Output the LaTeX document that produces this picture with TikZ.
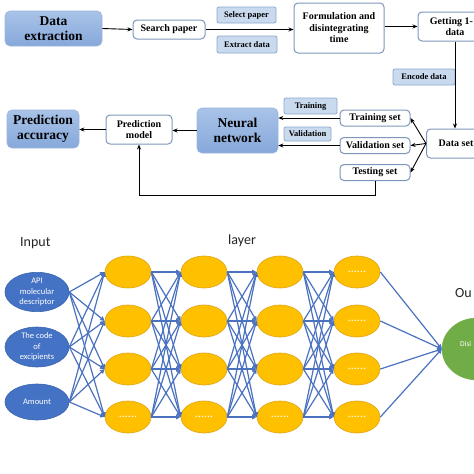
\documentclass[tikz,border=0pt]{standalone}
\usepackage{fontspec}
\setmainfont{Liberation Serif}
\newfontfamily\carl{Carlito}
\usetikzlibrary{arrows.meta,shapes.geometric,calc}
\definecolor{lblfill}{HTML}{C9D9EE}
\definecolor{lbldraw}{HTML}{8DA9CC}
\definecolor{wdraw}{HTML}{7D97BA}
\definecolor{bigtop}{HTML}{A9C3E8}
\definecolor{bigbot}{HTML}{86A8DA}
\definecolor{bigdraw}{HTML}{9DB6DC}
\definecolor{nnblue}{HTML}{4A72C0}
\definecolor{inpfill}{HTML}{4472C4}
\definecolor{inpdraw}{HTML}{3A63AE}
\definecolor{hidfill}{HTML}{FFC000}
\definecolor{hiddraw}{HTML}{E0A818}
\definecolor{outfill}{HTML}{70AD47}
\begin{document}
\begin{tikzpicture}[x=1pt,y=-1pt,
  bigbox/.style={rounded corners=5pt, top color=bigtop, bottom color=bigbot, draw=bigdraw, line width=0.6pt, font=\fontsize{13.5}{15}\selectfont\bfseries, align=center, inner sep=0pt},
  wbox/.style={rounded corners=4pt, fill=white, draw=wdraw, line width=1pt, font=\fontsize{10}{11.5}\selectfont\bfseries, align=center, inner sep=0pt},
  lbl/.style={rounded corners=2pt, fill=lblfill, draw=lbldraw, line width=0.8pt, font=\fontsize{8.5}{10}\selectfont\bfseries, inner sep=0pt},
  flow/.style={-{Stealth[length=5pt,width=4pt]}, line width=0.9pt, black},
  inp/.style={ellipse, fill=inpfill, draw=inpdraw, line width=0.6pt, minimum width=64pt, minimum height=36pt, inner sep=0pt, text=white, align=center, font=\carl\fontsize{8.5}{10.5}\selectfont},
  hid/.style={ellipse, fill=hidfill, draw=hiddraw, line width=0.7pt, minimum width=46pt, minimum height=32pt, inner sep=0pt, text=white, font=\carl\fontsize{12}{12}\selectfont},
  nn/.style={-{Triangle[length=4.5pt,width=4.5pt]}, line width=1.2pt, nnblue},
  ttl/.style={font=\carl\fontsize{14}{16}\selectfont, text=black!85, anchor=west, inner sep=0pt}]
\useasboundingbox (0,0) rectangle (474,474);
\clip (0,0) rectangle (474,474);
\fill[white] (0,0) rectangle (474,474);
% ---- top flow chart ----
\node[bigbox, minimum width=97pt, minimum height=35pt] (de) at (53.5,28.5) {Data\\extraction};
\node[wbox, minimum width=72pt, minimum height=19pt] (sp) at (169,29.5) {Search paper};
\node[lbl, minimum width=59pt, minimum height=16pt] (sel) at (246.5,15) {Select paper};
\node[lbl, minimum width=60pt, minimum height=17pt] (ext) at (247,44.5) {Extract data};
\node[wbox, minimum width=90pt, minimum height=50pt] (fm) at (339,28) {Formulation and\\disintegrating\\time};
\node[wbox, minimum width=74pt, minimum height=29pt] (gt) at (455,26.5) {Getting 1-\hphantom{D}\\data};
\node[lbl, minimum width=62pt, minimum height=16pt] (enc) at (424,77) {Encode data};
\node[wbox, minimum width=59pt, minimum height=29pt] (ds) at (456,143.5) {Data set};
\node[wbox, minimum width=70pt, minimum height=16pt] (trs) at (375,118) {Training set};
\node[wbox, minimum width=70pt, minimum height=16pt] (vs) at (375,145.5) {Validation set};
\node[wbox, minimum width=70pt, minimum height=16pt] (ts) at (375,172.5) {Testing set};
\node[lbl, minimum width=53pt, minimum height=16pt] (trl) at (310.5,106) {Training};
\node[lbl, minimum width=47pt, minimum height=14pt] (vl) at (307.5,134) {Validation};
\node[bigbox, minimum width=81pt, minimum height=45pt] (nnet) at (237.5,130.5) {Neural\\network};
\node[wbox, minimum width=66pt, minimum height=29pt] (pm) at (139,129.5) {Prediction\\model};
\node[bigbox, minimum width=72pt, minimum height=38pt] (pa) at (43,129) {Prediction\\accuracy};
\draw[flow] (de.east) -- (sp.west);
\draw[flow] (sp.east) -- (sp.east -| fm.west);
\draw[flow] (gt.west -| fm.east) -- (gt.west);
\draw[flow] (gt.south) -- (gt.south |- ds.north);
\draw[flow] (ds.west) -- (trs.east);
\draw[flow] (ds.west) -- (vs.east);
\draw[flow] (ds.west) -- (ts.east);
\draw[flow] (trs.west) -- (trs.west -| nnet.east);
\draw[flow] (vs.west) -- (vs.west -| nnet.east);
\draw[flow] (nnet.west) -- (nnet.west -| pm.east);
\draw[flow] (pm.west) -- (pm.west -| pa.east);
\draw[flow] (ts.south) -- ++(0,14) -| (pm.south);
% ---- neural network ----
\node[ttl] (tin) at (20,243) {Input};
\node[ttl] (tly) at (228,241) {layer};
\node[ttl] (tout) at (455,293) {Ou};
\node[inp] (in1) at (37,292) {API\\molecular\\descriptor};
\node[inp] (in2) at (37,347) {The code\\of\\excipients};
\node[inp] (in3) at (37,402) {Amount};
\node[hid] (h11) at (128,272) {};
\node[hid] (h12) at (128,321) {};
\node[hid] (h13) at (128,369) {};
\node[hid] (h14) at (128,417) {......};
\node[hid] (h21) at (204,272) {};
\node[hid] (h22) at (204,321) {};
\node[hid] (h23) at (204,369) {};
\node[hid] (h24) at (204,417) {......};
\node[hid] (h31) at (280,272) {};
\node[hid] (h32) at (280,321) {};
\node[hid] (h33) at (280,369) {};
\node[hid] (h34) at (280,417) {......};
\node[hid] (h41) at (357,272) {......};
\node[hid] (h42) at (357,321) {......};
\node[hid] (h43) at (357,369) {......};
\node[hid] (h44) at (357,417) {......};
\node[ellipse, fill=outfill, draw=outfill, minimum width=70pt, minimum height=62pt, inner sep=0pt] (out) at (477,349) {};
\node[anchor=west, inner sep=0pt, text=white, font=\carl\fontsize{7.5}{9}\selectfont] (outt) at (460,344) {Disi};
\foreach \i in {1,2,3} \foreach \j in {1,...,4} \draw[nn] (in\i.east) -- (h1\j.west);
\foreach \c/\n in {1/2,2/3,3/4} \foreach \i in {1,...,4} \foreach \j in {1,...,4} \draw[nn] (h\c\i.east) -- (h\n\j.west);
\foreach \j in {1,...,4} \draw[nn] (h4\j.east) -- (out.west);
\end{tikzpicture}
\end{document}
